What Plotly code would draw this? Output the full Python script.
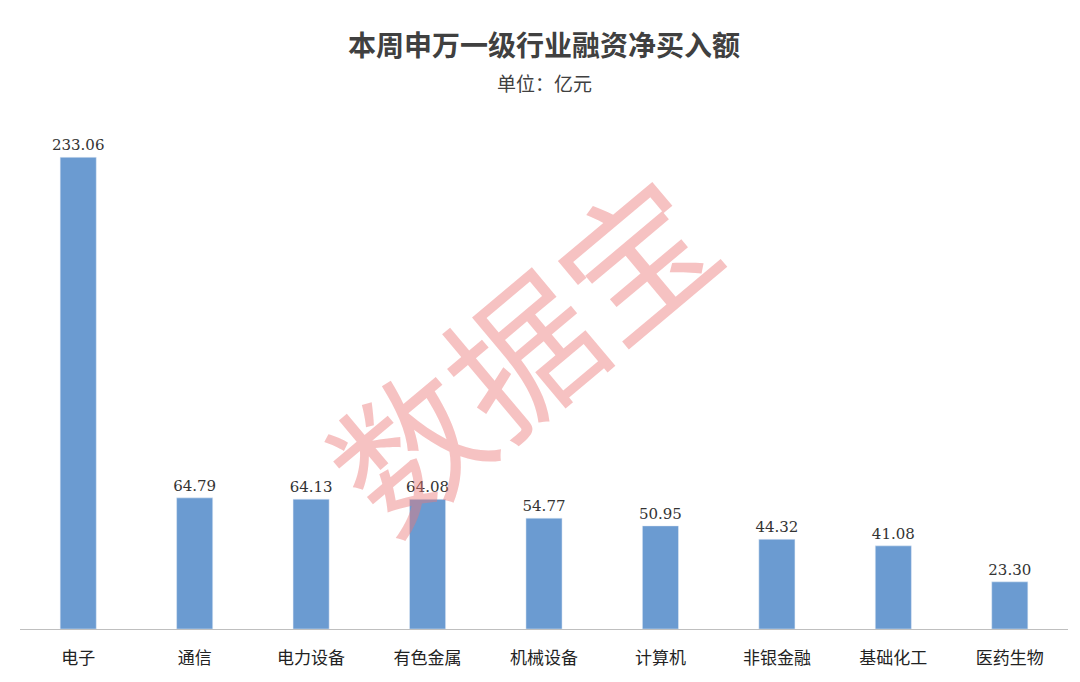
import plotly.graph_objects as go

categories = ["电子", "通信", "电力设备", "有色金属", "机械设备", "计算机", "非银金融", "基础化工", "医药生物"]
values = [233.06, 64.79, 64.13, 64.08, 54.77, 50.95, 44.32, 41.08, 23.30]

fig = go.Figure(go.Bar(
    x=categories, y=values,
    marker_color="#6b9bd1",
    text=[f"{v:.2f}" for v in values],
    textposition="outside",
    constraintext="none",
    textfont=dict(family="DejaVu Serif", size=15, color="#333333"),
    cliponaxis=False,
))

T, B = 115, 61
fig.update_layout(
    width=1080, height=682,
    margin=dict(l=12, r=20, t=T, b=B),
    plot_bgcolor="white", paper_bgcolor="white",
    bargap=0.69,
    showlegend=False,
    font=dict(family="Noto Sans CJK SC"),
    xaxis=dict(showline=True, linecolor="#bfbfbf", linewidth=1, ticks="",
               ticklabelstandoff=14, automargin=False,
               tickfont=dict(size=17, color="#222222", family="Noto Sans CJK SC")),
    yaxis=dict(visible=False, range=[0, 250]),
    annotations=[
        dict(text="<b>本周申万一级行业融资净买入额</b>", x=0.5, xref="paper", yref="paper",
             showarrow=False, font=dict(size=28, color="#404040")),
        dict(text="单位：亿元", x=0.5, xref="paper", yref="paper",
             showarrow=False, font=dict(size=19, color="#404040")),
        dict(text="数据宝", x=0.475, xref="paper", yref="paper", showarrow=False,
             textangle=-40, font=dict(size=148, color="rgba(236,120,120,0.45)")),
    ],
)
ph = 682 - T - B
fig.layout.annotations[0].update(y=1 + (T - 36) / ph, yanchor="middle")
fig.layout.annotations[1].update(y=1 + (T - 74) / ph, yanchor="middle")
fig.layout.annotations[2].update(y=1 - (340 - T) / ph, yanchor="middle")

fig.write_html("out.html")
